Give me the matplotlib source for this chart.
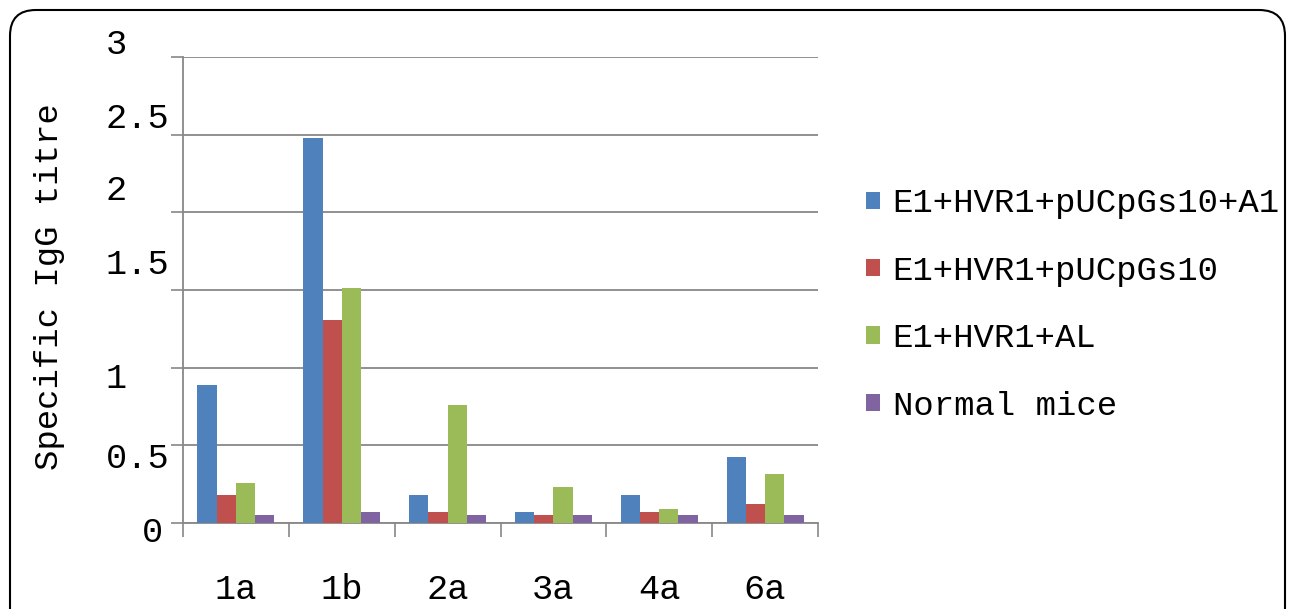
import matplotlib
matplotlib.use("Agg")
import matplotlib.pyplot as plt
from matplotlib.patches import FancyBboxPatch
import numpy as np

# data
categories = ["1a", "1b", "2a", "3a", "4a", "6a"]
series_names = ["E1+HVR1+pUCpGs10+A1", "E1+HVR1+pUCpGs10", "E1+HVR1+AL", "Normal mice"]
vals_a1 = [0.89, 2.48, 0.18, 0.07, 0.18, 0.425]
vals_cpg = [0.18, 1.31, 0.07, 0.05, 0.07, 0.12]
vals_al = [0.26, 1.51, 0.76, 0.23, 0.09, 0.315]
vals_normal = [0.05, 0.07, 0.05, 0.05, 0.05, 0.05]
ytick_vals = [0, 0.5, 1, 1.5, 2, 2.5, 3]
ytick_labels = ["0", "0.5", "1", "1.5", "2", "2.5", "3"]

colors = ["#4F81BD", "#C0504D", "#9BBB59", "#8064A2"]
FONT = "Liberation Mono"
FS = 24.5

fig = plt.figure(figsize=(12.93, 6.09), dpi=100)
ax = fig.add_axes([183/1293, 1-523/609, 635/1293, 466/609])

x = np.arange(len(categories))
w = 1/5.5
all_vals = [vals_a1, vals_cpg, vals_al, vals_normal]
for i, v in enumerate(all_vals):
    ax.bar(x + (i - 1.5)*w, v, width=w, color=colors[i], label=series_names[i], zorder=3)

ax.set_xlim(-0.5, len(categories) - 0.5)
ax.set_ylim(0, 3)
ax.set_yticks(ytick_vals)
ax.set_yticklabels([])
ax.tick_params(axis="y", length=9, color="#888888", width=1.2)
ax.yaxis.grid(True, color="#888888", linewidth=1.3, zorder=0)
ax.set_xticks(x)
ax.set_xticklabels(categories, fontsize=FS + 1, family=FONT)
ax.tick_params(axis="x", which="major", length=0, pad=36)
ax.set_xticks(np.arange(-0.5, len(categories)), minor=True)
ax.tick_params(axis="x", which="minor", length=10, color="#888888", width=1.2, direction="out")
for s in ["top", "right"]:
    ax.spines[s].set_visible(False)
for s in ["left", "bottom"]:
    ax.spines[s].set_color("#888888")
    ax.spines[s].set_linewidth(1.3)

# y tick labels sit a bit off their gridlines in the original
lab_pos = [(142, 533), (106, 458), (106, 378), (106, 265), (106, 190), (106, 118), (106, 44)]
for lab, (px, py) in zip(ytick_labels, lab_pos):
    fig.text(px/1293, 1-py/609, lab, fontsize=FS + 1, family=FONT, ha="left", va="center")

fig.text(50/1293, 1-287/609, "Specific IgG titre", rotation=90, fontsize=FS,
         family=FONT, ha="center", va="center")

leg = ax.legend(loc="center left", bbox_to_anchor=((866 - 183)/635, (523 - 305)/466),
                frameon=False, borderpad=0, borderaxespad=0,
                prop={"family": FONT, "size": FS}, handlelength=0.4, handleheight=0.4,
                handletextpad=0.38, labelspacing=1.07)

border = FancyBboxPatch((10/1293, -0.2), 1275/1293, 1.2 - 10/609,
                        boxstyle="round,pad=0,rounding_size=0.02",
                        transform=fig.transFigure, fill=False, edgecolor="black",
                        linewidth=1.5, mutation_aspect=1293/609)
fig.patches.append(border)

fig.savefig("out.png", dpi=100)
